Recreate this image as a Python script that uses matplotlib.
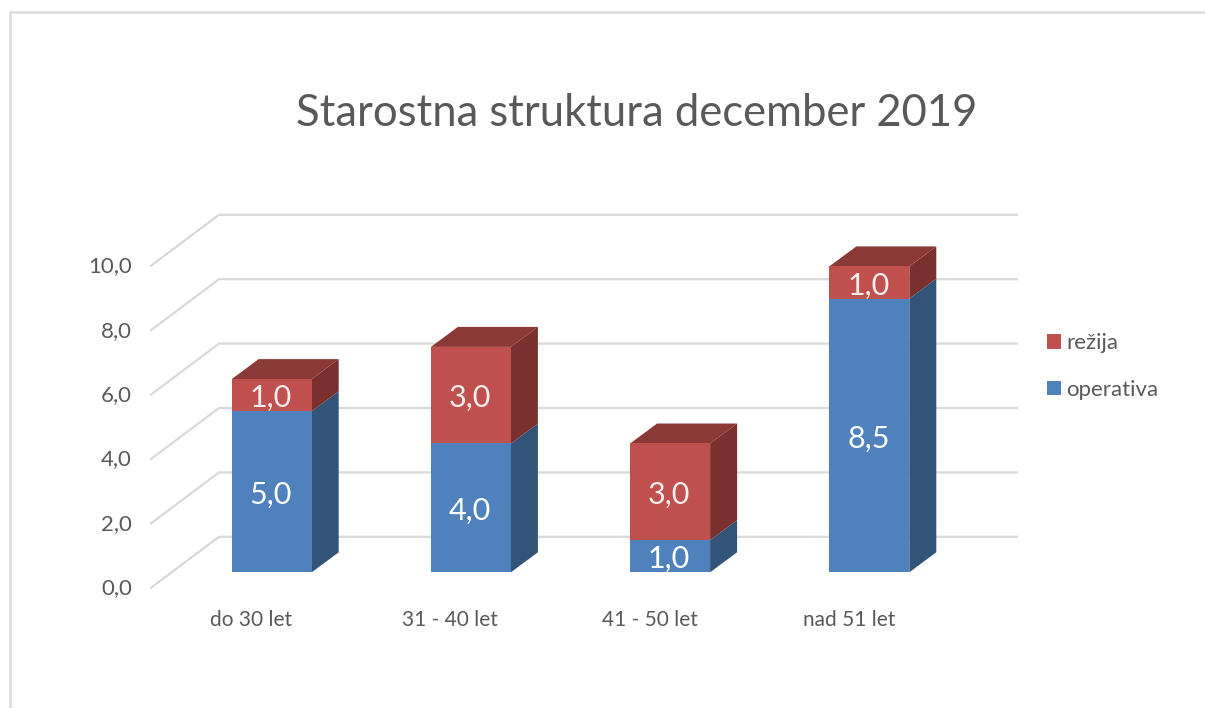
import matplotlib
matplotlib.use('Agg')
import matplotlib.pyplot as plt
from matplotlib.lines import Line2D
from matplotlib.transforms import ScaledTranslation

categories = ['do 30 let', '31 - 40 let', '41 - 50 let', 'nad 51 let']
operativa = [5.0, 4.0, 1.0, 8.5]
rezija = [1.0, 3.0, 3.0, 1.0]
y_ticks = [0, 2, 4, 6, 8, 10]

W, H = 1205, 708
BAR_W = 80 / 199.2

# depth of the fake 3D, in pixels
BAR_DX, BAR_DY = 27, 20
WALL_LEFT, WALL_RIGHT = 151, 1017
WALL_BACK = 219
WALL_DY_FRONT, WALL_DY_BACK = -15.5, 35.5

BLUE, BLUE_SIDE = '#4F81BD', '#325479'
RED, RED_SIDE, RED_TOP = '#C0504D', '#7A302E', '#8B3936'
GREY = '#595959'
GRID = '#D9D9D9'

plt.rcParams['font.family'] = ['Lato', 'DejaVu Sans']

fig = plt.figure(figsize=(W / 100, H / 100), dpi=100, facecolor='white')
ax = fig.add_axes([172.1 / W, (H - 572.3) / H, 796.8 / W, 322 / H])
ax.set_xlim(-0.5, 3.5)
ax.set_ylim(0, 10)
ax.patch.set_visible(False)
for s in ax.spines.values():
    s.set_visible(False)

# pixel sizes in data units
px_x = 4 / 796.8
px_y = 10 / 322
x_of = lambda px: -0.5 + (px - 172.1) * px_x

# outer frame of the screenshot
fig.add_artist(Line2D([9.5 / W, 9.5 / W, 1], [0, (H - 11.5) / H, (H - 11.5) / H],
                      color='#DCDCDC', lw=1.8))

# back wall and side wall lines
for v in y_ticks:
    ax.plot([x_of(WALL_LEFT), x_of(WALL_BACK), x_of(WALL_RIGHT)],
            [v + WALL_DY_FRONT * px_y, v + WALL_DY_BACK * px_y, v + WALL_DY_BACK * px_y],
            color=GRID, lw=1.6, clip_on=False, zorder=1, solid_joinstyle='miter')

xs = list(range(len(categories)))
dx = BAR_DX * px_x
dy = BAR_DY * px_y
label_drop = 3 * px_y


def side(x, y0, y1, color):
    r = x + BAR_W / 2
    ax.fill([r, r + dx, r + dx, r], [y0, y0 + dy, y1 + dy, y1], color=color,
            lw=0, clip_on=False, zorder=2)


bars_op = ax.bar(xs, operativa, BAR_W, color=BLUE, clip_on=False, zorder=3, label='operativa')
bars_re = ax.bar(xs, rezija, BAR_W, bottom=operativa, color=RED, clip_on=False, zorder=3, label='režija')

for x, a, b in zip(xs, operativa, rezija):
    side(x, 0, a, BLUE_SIDE)
    side(x, a, a + b, RED_SIDE)
    l = x - BAR_W / 2
    r = x + BAR_W / 2
    top = a + b
    ax.fill([l, r, r + dx, l + dx], [top, top, top + dy, top + dy], color=RED_TOP,
            lw=0, clip_on=False, zorder=2)
    ax.text(x - 0.005, a / 2 - label_drop, f'{a:.1f}'.replace('.', ','), color='white', fontsize=22,
            ha='center', va='center', zorder=4)
    ax.text(x - 0.005, a + b / 2 - label_drop, f'{b:.1f}'.replace('.', ','), color='#F5ECEC', fontsize=22,
            ha='center', va='center', zorder=4)

# ticks, shifted to where the front edge of the floor sits
ax.set_yticks(y_ticks)
ax.set_yticklabels([f'{v:.1f}'.replace('.', ',') for v in y_ticks], fontsize=16, color=GREY)
ax.set_xticks(xs)
ax.set_xticklabels(categories, fontsize=15, color=GREY)
ax.tick_params(axis='both', length=0)
ax.tick_params(axis='y', pad=29)
ax.tick_params(axis='x', pad=27)
for lab in ax.get_yticklabels():
    lab.set_transform(lab.get_transform() + ScaledTranslation(0, -14 / 100, fig.dpi_scale_trans))
for lab in ax.get_xticklabels():
    lab.set_transform(lab.get_transform() + ScaledTranslation(-20.5 / 100, 0, fig.dpi_scale_trans))

fig.text(636.5 / W, (H - 114) / H, 'Starostna struktura december 2019', fontsize=31.4,
         color=GREY, ha='center', va='center')

ax.legend([bars_re, bars_op], ['režija', 'operativa'], loc='center left',
          bbox_to_anchor=(1026.5 / W, (H - 366.5) / H), bbox_transform=fig.transFigure,
          frameon=False, fontsize=16, handlelength=0.63, handleheight=0.63,
          handletextpad=0.25, labelspacing=1.19, labelcolor=GREY)

fig.savefig('out.png', dpi=100)
